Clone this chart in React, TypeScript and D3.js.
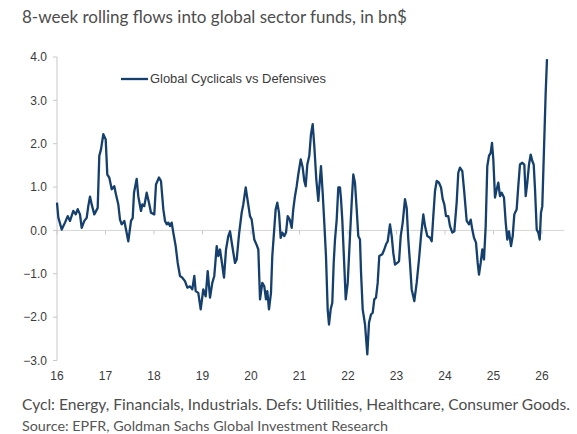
import * as d3 from 'd3'

// years elapsed since Jan 2016
const yearsFrom2016 = [
  0.000, 0.027, 0.097, 0.165, 0.221, 0.268, 0.336, 0.386, 0.427, 0.474, 0.509, 0.563,
  0.612, 0.645, 0.680, 0.715, 0.769, 0.839, 0.872, 0.907, 0.955, 1.004, 1.037, 1.078,
  1.128, 1.181, 1.216, 1.264, 1.299, 1.334, 1.388, 1.423, 1.470, 1.526, 1.561, 1.588,
  1.643, 1.676, 1.732, 1.759, 1.800, 1.849, 1.897, 1.938, 2.006, 2.041, 2.103, 2.144,
  2.192, 2.227, 2.262, 2.295, 2.330, 2.365, 2.398, 2.447, 2.489, 2.536, 2.584, 2.639,
  2.687, 2.742, 2.790, 2.831, 2.860, 2.913, 2.963, 3.016, 3.066, 3.107, 3.155, 3.202,
  3.243, 3.293, 3.326, 3.361, 3.396, 3.443, 3.485, 3.532, 3.567, 3.614, 3.670, 3.705,
  3.753, 3.808, 3.841, 3.891, 3.932, 3.979, 4.014, 4.068, 4.118, 4.151, 4.186, 4.233,
  4.274, 4.309, 4.336, 4.371, 4.412, 4.439, 4.474, 4.509, 4.542, 4.577, 4.612, 4.645,
  4.687, 4.722, 4.757, 4.798, 4.839, 4.872, 4.907, 4.942, 4.975, 5.025, 5.066, 5.099,
  5.128, 5.161, 5.202, 5.237, 5.272, 5.305, 5.346, 5.388, 5.408, 5.443, 5.478, 5.511,
  5.546, 5.581, 5.608, 5.643, 5.676, 5.705, 5.732, 5.767, 5.800, 5.835, 5.856, 5.882,
  5.918, 5.953, 5.994, 6.041, 6.076, 6.109, 6.144, 6.179, 6.212, 6.247, 6.268, 6.303,
  6.351, 6.398, 6.433, 6.474, 6.509, 6.542, 6.577, 6.612, 6.645, 6.707, 6.748, 6.784,
  6.819, 6.866, 6.901, 6.934, 6.969, 7.016, 7.052, 7.087, 7.128, 7.175, 7.210, 7.243,
  7.278, 7.313, 7.367, 7.416, 7.464, 7.505, 7.553, 7.588, 7.635, 7.691, 7.726, 7.759,
  7.794, 7.829, 7.876, 7.918, 7.953, 7.986, 8.021, 8.068, 8.103, 8.151, 8.192, 8.241,
  8.274, 8.309, 8.357, 8.398, 8.447, 8.495, 8.530, 8.563, 8.598, 8.639, 8.674, 8.701,
  8.736, 8.769, 8.804, 8.839, 8.872, 8.907, 8.942, 8.969, 8.996, 9.031, 9.066, 9.099,
  9.134, 9.169, 9.216, 9.252, 9.285, 9.320, 9.361, 9.396, 9.429, 9.478, 9.511, 9.546,
  9.594, 9.635, 9.664, 9.697, 9.732, 9.767, 9.800, 9.829, 9.856, 9.891, 9.924, 9.953,
  9.979, 10.006, 10.041, 10.076, 10.103,
]

// Global Cyclicals vs Defensives, bn$
const flows = [
  0.64, 0.30, 0.02, 0.18, 0.33, 0.22, 0.45, 0.37, 0.49, 0.37, 0.06, 0.22,
  0.29, 0.56, 0.78, 0.60, 0.37, 0.52, 1.72, 1.87, 2.22, 2.10, 1.29, 1.22,
  0.95, 1.02, 0.83, 0.60, 0.25, 0.14, 0.22, 0.02, -0.25, 0.22, 0.29, 0.87,
  1.19, 0.79, 0.45, 0.60, 0.56, 0.87, 0.64, 0.41, 0.37, 1.06, 1.22, 1.14,
  0.49, 0.22, 0.14, 0.18, 0.10, 0.18, -0.05, -0.36, -0.75, -1.05, -1.09, -1.17,
  -1.32, -1.29, -1.36, -1.05, -1.40, -1.44, -1.82, -1.36, -1.52, -0.94, -1.55, -1.21,
  -1.05, -0.36, -0.59, -0.44, -0.71, -1.09, -0.44, -0.13, -0.02, -0.36, -0.75, -0.67,
  -0.09, 0.41, 0.60, 0.99, 0.68, 0.33, 0.25, -0.21, -0.34, -0.44, -1.59, -1.21,
  -1.29, -1.59, -1.40, -1.82, -1.44, -0.59, -0.05, 0.49, 0.64, 0.41, -0.17, -0.05,
  -0.13, -0.05, 0.33, 0.25, 0.06, 0.49, 0.79, 1.02, 1.29, 1.64, 1.45, 1.14,
  1.02, 1.52, 1.72, 2.22, 2.45, 1.95, 1.18, 0.68, 0.99, 1.48, 0.87, 0.18,
  -0.59, -1.82, -2.17, -1.82, -1.67, -0.75, -0.21, 0.25, 0.99, 0.99, 0.72, 0.25,
  -0.67, -1.59, -1.21, -0.13, 0.64, 1.29, 1.10, 0.49, -0.13, -0.21, -0.95, -1.82,
  -2.17, -2.86, -2.13, -1.94, -1.90, -1.59, -1.55, -1.21, -0.59, -0.55, -0.44, -0.32,
  -0.25, 0.14, -0.13, -0.52, -0.79, -0.75, -0.71, -0.13, 0.18, 0.72, 0.52, -0.21,
  -0.75, -1.36, -1.63, -1.21, -0.67, -0.13, 0.37, 0.10, -0.13, -0.17, -0.25, 0.33,
  0.91, 1.14, 1.10, 0.99, 0.72, 0.60, 0.33, 0.33, 0.10, -0.05, -0.02, 0.65,
  1.33, 1.45, 1.37, 0.87, 0.22, 0.14, 0.25, 0.02, -0.17, -0.28, -0.75, -1.02,
  -0.75, -0.44, -0.67, 0.10, 1.48, 1.72, 1.79, 2.02, 1.64, 0.76, 0.95, 1.10,
  0.79, 0.87, 0.76, 0.18, -0.21, -0.02, -0.36, -0.13, 0.37, 0.49, 1.02, 1.52,
  1.56, 1.52, 0.79, 1.10, 1.52, 1.75, 1.60, 1.52, 0.95, 0.02, -0.05, -0.21,
  0.41, 0.56, 1.87, 3.18, 3.95,
]

const yearLabels = ['16', '17', '18', '19', '20', '21', '22', '23', '24', '25', '26']
const yTicks = [4, 3, 2, 1, 0, -1, -2, -3]

const W = 577
const H = 434
const LINE = '#153f6c'
const AXIS = '#c8c8c8'
const LABEL = '#3a3a3a'

export default function App() {
  const x = d3.scaleLinear().domain([0, 10]).range([57, 542])
  const y = d3.scaleLinear().domain([-3, 4]).range([360.5, 57])

  const points = yearsFrom2016.map((t, i) => [t, flows[i]] as [number, number])
  const line = d3.line<[number, number]>()
    .x(d => x(d[0]))
    .y(d => y(d[1]))

  return (
    <svg width={W} height={H} style={{ position: 'absolute', left: 0, top: 0, background: '#fff' }}>
      <text x={22} y={23} fontFamily="Lato" fontSize={17} fill="#4d4d4d" textLength={385} lengthAdjust="spacingAndGlyphs">
        8-week rolling flows into global sector funds, in bn$
      </text>

      {/* y axis */}
      <line x1={57} x2={57} y1={y(4)} y2={y(-3)} stroke={AXIS} />
      {yTicks.map(v => (
        <g key={v}>
          <line x1={53} x2={57} y1={y(v)} y2={y(v)} stroke={AXIS} />
          <text x={47} y={y(v)} dy="0.35em" textAnchor="end" fontFamily="Liberation Sans" fontSize={12} fill={LABEL}>
            {d3.format('.1f')(v)}
          </text>
        </g>
      ))}

      {/* zero line acting as x axis */}
      <line x1={57} x2={564} y1={y(0)} y2={y(0)} stroke="#d6d6d6" />
      {yearLabels.map((lab, i) => (
        <g key={lab}>
          <line x1={x(i)} x2={x(i)} y1={y(0)} y2={y(0) + 4} stroke={AXIS} />
          <text x={x(i)} y={380} textAnchor="middle" fontFamily="Liberation Sans" fontSize={12} fill={LABEL}>
            {lab}
          </text>
        </g>
      ))}

      <path d={line(points) ?? ''} fill="none" stroke={LINE} strokeWidth={2.3} strokeLinejoin="round" />

      {/* legend */}
      <line x1={121} x2={148} y1={79} y2={79} stroke={LINE} strokeWidth={2.3} />
      <text x={150} y={79} dy="0.35em" fontFamily="Liberation Sans" fontSize={12.5} fill={LABEL} textLength={176} lengthAdjust="spacingAndGlyphs">
        Global Cyclicals vs Defensives
      </text>

      <text x={22} y={410} fontFamily="Lato" fontSize={15} fill="#4d4d4d" textLength={548} lengthAdjust="spacingAndGlyphs">
        Cycl: Energy, Financials, Industrials. Defs: Utilities, Healthcare, Consumer Goods.
      </text>
      <text x={22} y={431} fontFamily="Lato" fontSize={13} fill="#555" textLength={366} lengthAdjust="spacingAndGlyphs">
        Source: EPFR, Goldman Sachs Global Investment Research
      </text>
    </svg>
  )
}
